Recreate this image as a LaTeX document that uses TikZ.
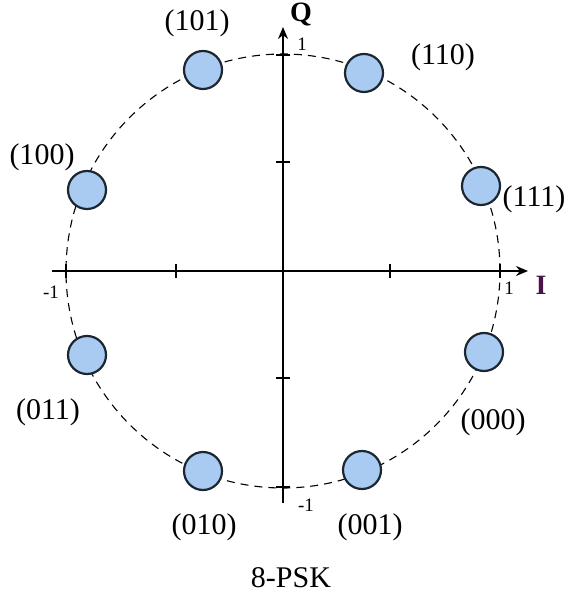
\documentclass[tikz,border=0pt]{standalone}
\usepackage{fontspec}
\setmainfont{Liberation Serif}
\usetikzlibrary{arrows.meta}
\definecolor{dotfill}{HTML}{A9CBF2}
\definecolor{dotline}{HTML}{1C2630}
\definecolor{ilabel}{HTML}{4A1446}
\tikzset{
  dot/.style={circle, draw=dotline, fill=dotfill, line width=1.1pt, minimum size=19pt, inner sep=0pt},
  lbl/.style={font=\fontsize{15}{18}\selectfont, inner sep=0pt},
  ticklbl/.style={font=\fontsize{9.5}{11}\selectfont, inner sep=0pt},
  axis/.style={line width=0.9pt},
  ring/.style={line width=0.55pt, dash pattern=on 4pt off 3pt},
  tickm/.style={line width=0.8pt}
}
\begin{document}
\begin{tikzpicture}[x=0.5pt, y=-0.5pt]
\useasboundingbox (0,0) rectangle (570,597);
\coordinate (O) at (283,271);
\draw[ring] (O) circle[radius=108.5pt];
% axes
\coordinate (il) at (52,271);
\coordinate (ir) at (528,271);
\coordinate (qb) at (283,503);
\coordinate (qt) at (283,27);
\draw[axis, -{Stealth[length=6pt,width=5pt]}] (il) -- (ir);
\draw[axis, -{Stealth[length=6pt,width=5pt]}] (qb) -- (qt);
% ticks
\foreach \x in {66,176,390,500} \draw[tickm] (\x,264) -- (\x,278);
\foreach \y in {55,162,378,487} \draw[tickm] (276,\y) -- (290,\y);
% axis labels
\node[font=\fontsize{14}{16}\selectfont\bfseries, inner sep=0pt] (Q) at (301,15) {Q};
\node[font=\fontsize{14}{16}\selectfont\bfseries, text=ilabel, inner sep=0pt] (I) at (541,285) {I};
\node[ticklbl] (t1) at (302,44) {1};
\node[ticklbl] (tm1l) at (51,292) {-1};
\node[ticklbl] (t1r) at (509,288) {1};
\node[ticklbl] (tm1b) at (306,505) {-1};
% constellation points
\node[dot] (p101) at (203,70) {};
\node[dot] (p110) at (364,73) {};
\node[dot] (p100) at (87,190) {};
\node[dot] (p111) at (481,186) {};
\node[dot] (p011) at (87,355) {};
\node[dot] (p000) at (484,352) {};
\node[dot] (p010) at (203,471) {};
\node[dot] (p001) at (362,470) {};
% labels
\node[lbl] (l101) at (197,23) {(101)};
\node[lbl] (l110) at (443,57) {(110)};
\node[lbl] (l100) at (42,157) {(100)};
\node[lbl] (l111) at (534,199) {(111)};
\node[lbl] (l011) at (48,412) {(011)};
\node[lbl] (l000) at (493,422) {(000)};
\node[lbl] (l010) at (204,527) {(010)};
\node[lbl] (l001) at (370,527) {(001)};
\node[lbl] (title) at (291,578) {8-PSK};
\end{tikzpicture}
\end{document}
